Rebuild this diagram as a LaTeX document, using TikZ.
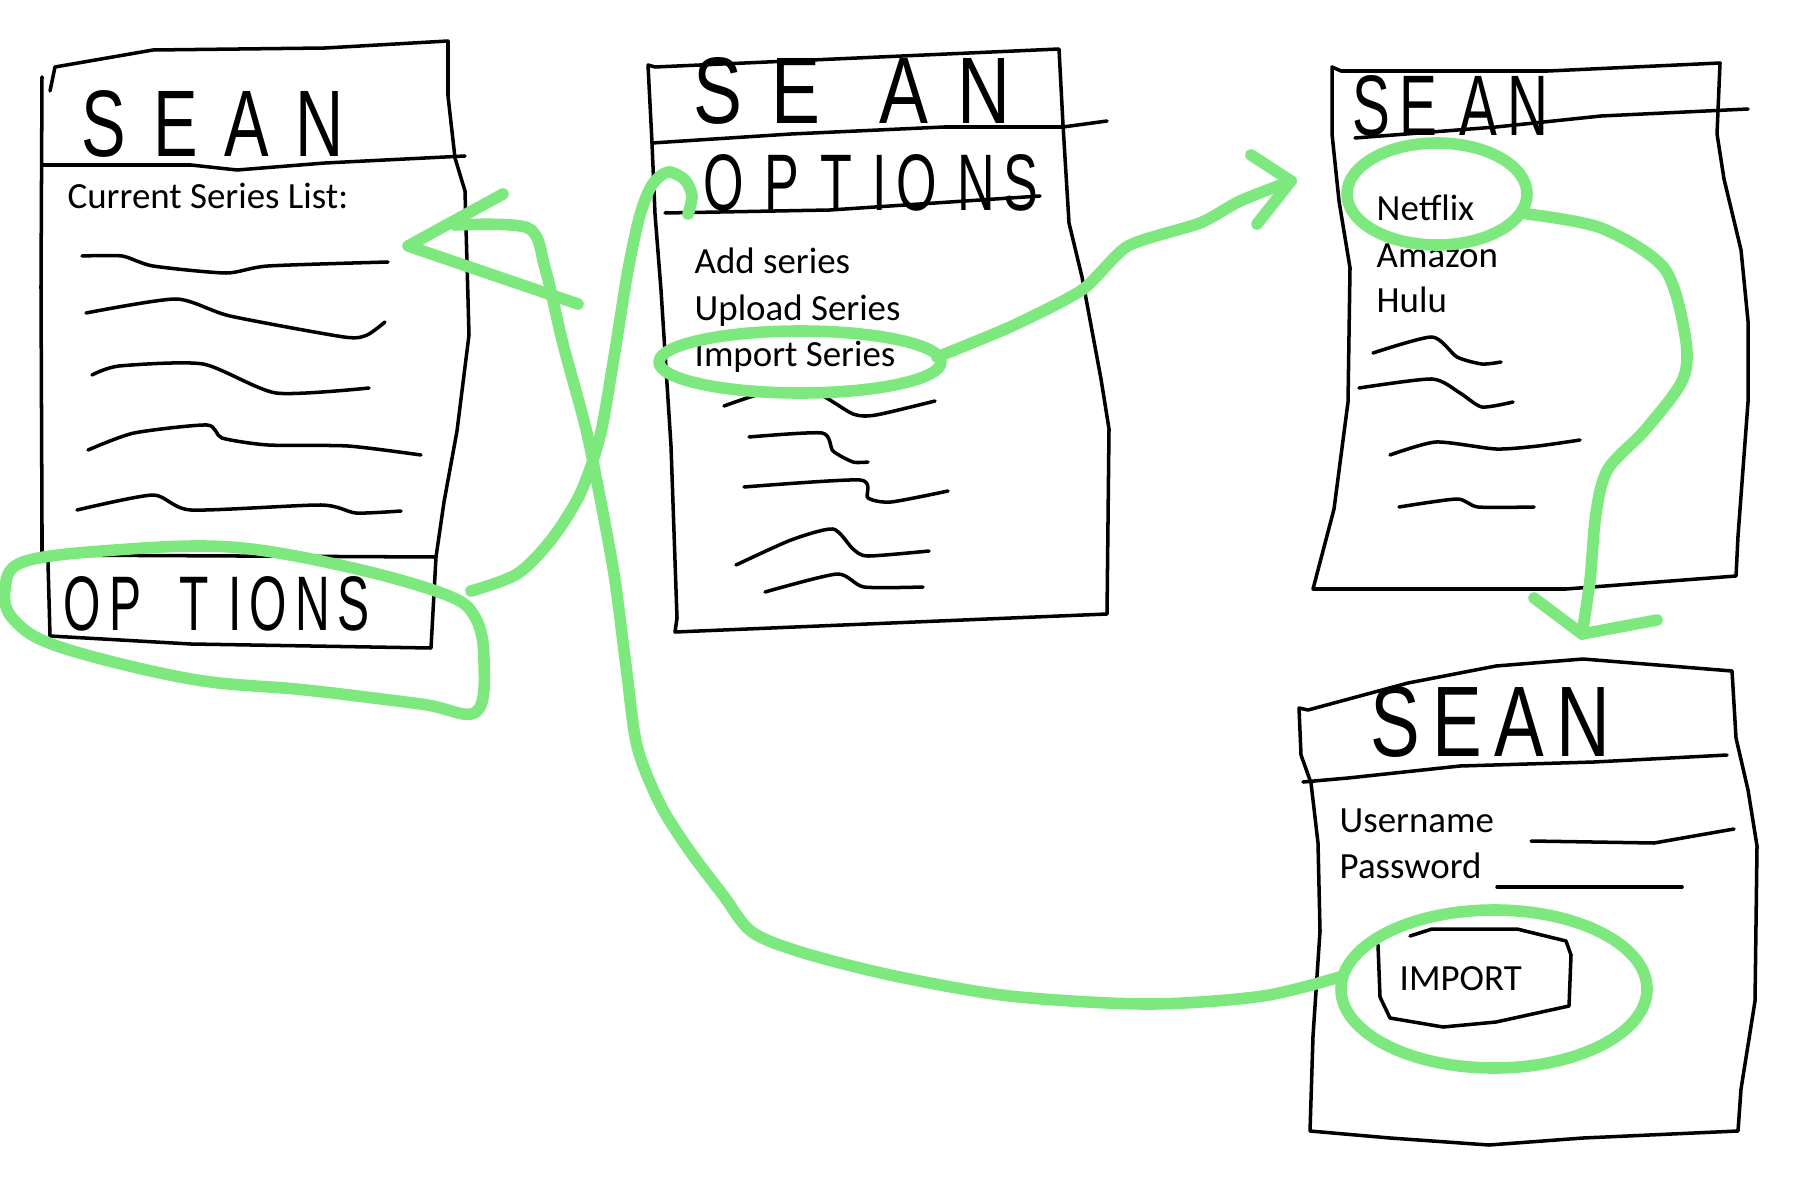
\documentclass[tikz,border=0pt]{standalone}
\usepackage{fontspec}
\setmainfont{Carlito}
\newfontfamily\handfont{Liberation Sans}
\newlength\pxu
\setlength\pxu{0.1mm}
\newcommand\hand[3]{\resizebox{#1\pxu}{#2\pxu}{\handfont #3}}
\newcommand\gap{\hspace{.4em}}
\definecolor{marker}{RGB}{125,232,125}
\tikzset{
  pen/.style={line width=1pt, line join=round, line cap=round},
  hl/.style={draw=marker, line width=3.3pt, line join=round, line cap=round},
  entry/.style={anchor=base west, inner sep=0pt, font=\fontsize{10.5}{12}\selectfont},
  handtxt/.style={inner sep=0pt, anchor=base}
}
\begin{document}
\begin{tikzpicture}[x=0.1mm, y=-0.1mm]
  \useasboundingbox (0,0) rectangle (1800,1200);

  \draw[pen] (50,91) -- (55,67) -- (153,50) -- (325,48) -- (448,41) -- (448,96) -- (455,158) -- (465,191)
    -- (469,335) -- (457,431) -- (444,502) -- (436,557);
  \draw[pen] (42,77) -- (41,287) -- (42,526) -- (42,555) -- (436,557) -- (431,648) -- (191,644) -- (50,636) -- (48,562);
  \draw[pen] (42,165) -- (191,165) -- (237,170) -- (325,163) -- (465,156);
  \node[handtxt] (sean1) at (213,156) {\hand{262}{66}{S\gap E\gap A\gap N}};
  \node[entry] (curlist) at (67,209) {Current Series List:};
  \foreach \pts in {{(82,256) (122,256) (153,266) (226,273) (268,266) (388,262)},
                    {(86,313) (176,299) (230,316) (344,337) (367,335) (385,322)},
                    {(92,375) (119,366) (203,364) (276,393) (369,388)},
                    {(88,450) (134,433) (207,425) (222,438) (268,445) (348,446) (421,455)},
                    {(77,510) (153,495) (191,510) (321,505) (356,513) (401,511)}}
    \draw[pen] plot[smooth, tension=0.4] coordinates \pts;
  \node[handtxt] (options1) at (217,630) {\hand{306}{54}{O\,P\gap\gap T\gap I\,O\,N\,S}};

  \draw[pen] (648,65) -- (655,67) -- (1059,49) -- (1063,125) -- (1069,223) -- (1082,277) -- (1101,379) -- (1109,429)
    -- (1107,614) -- (675,632) -- (677,618) -- (671,446) -- (661,290) -- (655,214) -- (652,143) -- cycle;
  \draw[pen] (652,143) -- (791,134) -- (944,127) -- (1063,127) -- (1107,121);
  \draw[pen] (665,213) -- (830,210) -- (1040,196);
  \node[handtxt] (sean2) at (852,124) {\hand{317}{66}{S\gap E\gap\gap A\gap N}};
  \node[handtxt] (options2) at (871,210) {\hand{335}{56}{O\gap P\gap T\gap I\,O\gap N\,S}};
  \node[entry] (addser) at (694,273) {Add series};
  \node[entry] (uploadser) at (694,320) {Upload Series};
  \node[entry] (importser) at (694,366) {Import Series};
  \foreach \pts in {{(724,406) (765,393) (814,392) (853,414) (876,415) (935,401)},
                    {(749,437) (822,433) (833,451) (853,462) (868,462)},
                    {(744,487) (860,480) (868,498) (891,502) (948,491)},
                    {(736,565) (791,540) (833,529) (853,549) (868,556) (929,551)},
                    {(765,592) (837,574) (864,587) (923,587)}}
    \draw[pen] plot[smooth, tension=0.4] coordinates \pts;

  \draw[pen] (1332,67) -- (1341,71) -- (1548,71) -- (1720,63) -- (1717,134) -- (1724,179) -- (1741,250) -- (1748,321)
    -- (1748,402) -- (1738,536) -- (1736,576) -- (1566,589) -- (1313,589) -- (1334,509) -- (1348,402) -- (1350,268)
    -- (1339,201) -- (1332,134) -- cycle;
  \draw[pen] (1355,138) -- (1496,127) -- (1601,116) -- (1748,109);
  \node[handtxt] (sean3) at (1450,136) {\hand{196}{60}{S\,E\gap A\,N}};
  \node[entry] (netflix) at (1376,221) {Netflix};
  \node[entry] (amazon) at (1376,267) {Amazon};
  \node[entry] (hulu) at (1376,312) {Hulu};
  \foreach \pts in {{(1373,353) (1432,337) (1457,357) (1482,364) (1501,362)},
                    {(1359,388) (1432,379) (1460,393) (1482,407) (1513,402)},
                    {(1390,455) (1436,442) (1496,449) (1538,446) (1580,440)},
                    {(1399,507) (1457,499) (1478,507) (1534,507)}}
    \draw[pen] plot[smooth, tension=0.4] coordinates \pts;

  \draw[pen] (1299,708) -- (1308,710) -- (1408,683) -- (1496,666) -- (1583,659) -- (1732,671) -- (1736,738) -- (1748,790)
    -- (1757,846) -- (1755,1001) -- (1741,1089) -- (1738,1131) -- (1583,1138) -- (1489,1145) -- (1390,1138) -- (1310,1131)
    -- (1313,1036) -- (1320,931) -- (1318,843) -- (1311,783) -- (1301,755) -- cycle;
  \draw[pen] (1303,782) -- (1348,778) -- (1460,766) -- (1594,762) -- (1727,755);
  \node[handtxt] (sean4) at (1490,756) {\hand{240}{70}{S\,E\,A\,N}};
  \node[entry] (username) at (1339,832) {Username};
  \node[entry] (password) at (1339,878) {Password};
  \draw[pen] (1531,841) -- (1654,843) -- (1734,829);
  \draw[pen] (1497,887) -- (1682,887);
  \draw[pen] (1410,936) -- (1432,929) -- (1517,929) -- (1566,941) -- (1571,955) -- (1569,1006) -- (1496,1022)
    -- (1443,1027) -- (1390,1018) -- (1380,997) -- (1378,945);
  \node[entry] (importbtn) at (1399,990) {IMPORT};

  \draw[hl] plot[smooth cycle, tension=0.6] coordinates {(230,547) (115,550) (23,562) (5,590) (14,620) (60,647)
    (191,679) (306,690) (421,704) (476,712) (484,660) (475,617) (444,594) (344,566)};
  \coordinate (opt1out) at (471,591);
  \coordinate (opt2in) at (688,214);
  \draw[hl] plot[smooth, tension=0.5] coordinates {(opt1out) (517,574) (551,540) (580,494) (600,436) (614,357)
    (628,270) (640,215) (652,185) (668,172) (685,180) (692,196) (opt2in)};

  \draw[hl] (800,362) ellipse [x radius=141, y radius=31];
  \coordinate (impout) at (937,357);
  \coordinate (netin) at (1291,181);
  \draw[hl] plot[smooth, tension=0.4] coordinates {(impout) (1010,327) (1082,290) (1128,246) (1200,223) (1240,201) (netin)};
  \draw[hl] (1251,155) -- (netin) -- (1257,224);

  \draw[hl] (1437,194) ellipse [x radius=90, y radius=51];
  \coordinate (netout) at (1527,214);
  \coordinate (loginin) at (1582,634);
  \draw[hl] plot[smooth, tension=0.5] coordinates {(netout) (1601,228) (1664,268) (1685,335) (1683,379) (1646,429)
    (1608,469) (1596,513) (1590,580) (loginin)};
  \draw[hl] (1534,598) -- (loginin) -- (1657,620);

  \draw[hl] (1494,989) ellipse [x radius=153, y radius=79];
  \coordinate (btnout) at (1343,976);
  \coordinate (listin) at (455,225);
  \draw[hl] plot[smooth, tension=0.5] coordinates {(btnout) (1263,996) (1148,1004) (1010,996) (895,976) (804,953)
    (752,932) (723,895) (689,850) (660,804) (637,746) (626,666) (614,574) (597,482) (585,425) (563,344)
    (545,268) (528,228) (listin)};
  \draw[hl] (503,194) -- (408,246) -- (578,304);
\end{tikzpicture}
\end{document}
